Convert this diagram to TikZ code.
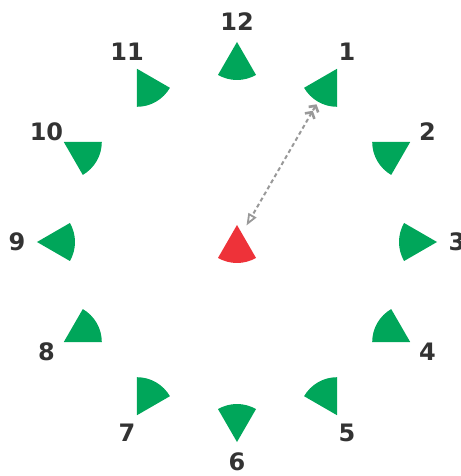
\documentclass[tikz,border=0pt]{standalone}
\usepackage{fontspec}
\setmainfont{DejaVu Sans}
\usepackage{tikz}
\usetikzlibrary{arrows.meta}
\definecolor{wedgegreen}{HTML}{00A65A}
\definecolor{handred}{HTML}{EE3239}
\definecolor{labelgray}{HTML}{333333}
\definecolor{dashgray}{HTML}{999999}

\begin{document}
\begin{tikzpicture}[
    wedge/.style={
        fill=wedgegreen
    },
    hand/.style={
        fill=handred
    },
    hour/.style={
        text=labelgray,
        inner sep=0pt,
        font=\bfseries\fontsize{24}{24}\selectfont
    },
    link/.style={
        {Straight Barb[length=4.5pt,width=11pt,line width=2.6pt] Straight Barb[length=4.5pt,width=11pt,line width=2.6pt]}-{Triangle[open,length=12pt,width=9pt,line width=1.8pt]},
        dashgray,
        line width=2pt,
        dash pattern=on 4pt off 3pt
    }
]
\useasboundingbox (-237pt,-234pt) rectangle (223pt,242pt);

% hour marks
\foreach \h in {1,...,12}{
    \pgfmathsetmacro\ang{90-30*\h}
    \pgfmathsetmacro\sa{\ang+150}
    \pgfmathsetmacro\ea{\ang+210}
    \coordinate (h\h) at (\ang:200pt);
    \fill[wedge] (h\h) -- ++(\sa:38pt) arc[start angle=\sa,end angle=\ea,radius=38pt] -- cycle;
    \node[hour] (n\h) at (\ang:220pt) {\h};
}

% hand
\coordinate (hub) at (0pt,17pt);
\fill[hand] (hub) -- ++(240:38pt) arc[start angle=240,end angle=300,radius=38pt] -- cycle;

\coordinate (from) at (60:159pt);
\coordinate (to) at (60:19pt);
\draw[link] (from) -- (to);

\end{tikzpicture}
\end{document}
